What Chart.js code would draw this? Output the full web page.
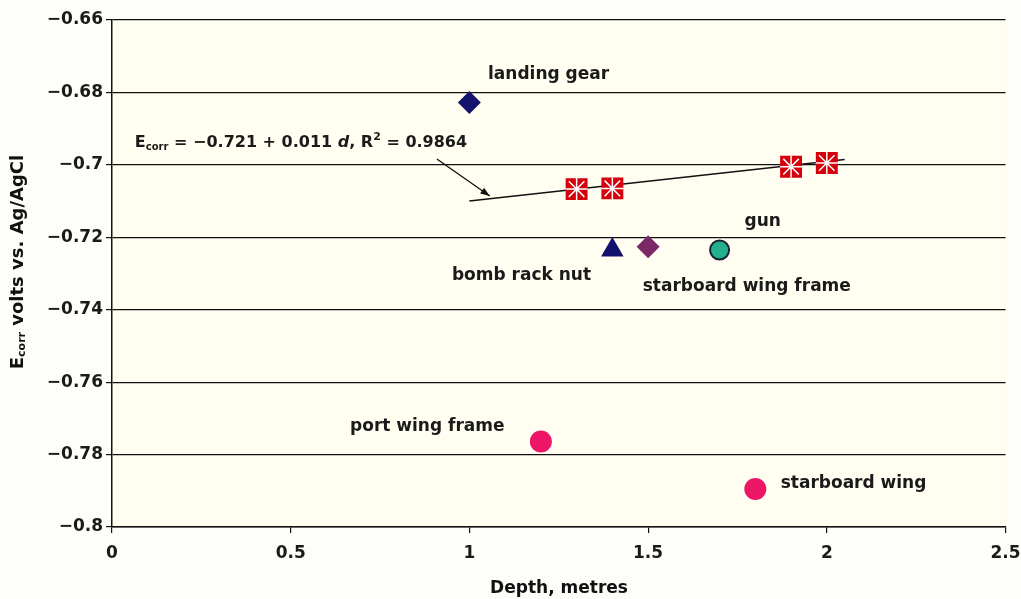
<!DOCTYPE html>
<html>
<head>
<meta charset="utf-8">
<script src="https://cdn.jsdelivr.net/npm/chart.js@4.4.0/dist/chart.umd.min.js"></script>
<style>
  html, body { margin: 0; padding: 0; background: #fdfdf9; }
  #wrap { width: 1021px; height: 599px; position: relative; }
</style>
</head>
<body>
<div id="wrap"><canvas id="c" width="1021" height="599"></canvas></div>
<script>
// depth (m) and Ecorr (V vs Ag/AgCl)
const landingGearX = [1.0];
const landingGearY = [-0.6828];
const squareX = [1.3, 1.4, 1.9, 2.0];
const squareY = [-0.7067, -0.7065, -0.7005, -0.6995];
const bombRackX = [1.4];
const bombRackY = [-0.7235];
const purpleX = [1.5];
const purpleY = [-0.7226];
const gunX = [1.7];
const gunY = [-0.7235];
const wingX = [1.2, 1.8];
const wingY = [-0.7764, -0.7895];
const trendX = [1.0, 2.05];
const trendY = [-0.710, -0.6985];
const xTicks = [0, 0.5, 1, 1.5, 2, 2.5];
const yTicks = [-0.66, -0.68, -0.7, -0.72, -0.74, -0.76, -0.78, -0.8];

const pts = (xs, ys) => xs.map((x, i) => ({ x: x, y: ys[i] }));
const FONT = "'DejaVu Sans', Verdana, sans-serif";

// text annotations (data coords, left edge / vertical middle)
const notes = [
  { text: "landing gear", x: 1.052, y: -0.6752 },
  { text: "gun", x: 1.770, y: -0.7158 },
  { text: "bomb rack nut", x: 0.951, y: -0.7307 },
  { text: "starboard wing frame", x: 1.485, y: -0.7335 },
  { text: "port wing frame", x: 0.666, y: -0.7724 },
  { text: "starboard wing", x: 1.871, y: -0.7879 },
];

const decor = {
  id: "decor",
  beforeDraw(chart) {
    const { ctx, chartArea: a } = chart;
    ctx.save();
    ctx.fillStyle = "#fffef0";
    ctx.fillRect(a.left, a.top, a.right - a.left, a.bottom - a.top);
    ctx.restore();
  },
  afterDraw(chart) {
    const { ctx, scales } = chart;
    const xs = scales.x, ys = scales.y;
    ctx.save();
    ctx.fillStyle = "#1a1a1a";
    ctx.textBaseline = "middle";
    ctx.font = "bold 17px " + FONT;
    notes.forEach((n) => {
      ctx.fillText(n.text, xs.getPixelForValue(n.x), ys.getPixelForValue(n.y));
    });

    // equation
    let px = xs.getPixelForValue(0.064);
    const py = ys.getPixelForValue(-0.694);
    const seg = (t, font, dy) => {
      ctx.font = font;
      ctx.fillText(t, px, py + (dy || 0));
      px += ctx.measureText(t).width;
    };
    seg("E", "bold 16px " + FONT);
    seg("corr", "bold 10px " + FONT, 4);
    seg(" = \u22120.721 + 0.011 ", "bold 16px " + FONT);
    seg("d", "italic bold 16px " + FONT);
    seg(", R", "bold 16px " + FONT);
    seg("2", "bold 11px " + FONT, -6);
    seg(" = 0.9864", "bold 16px " + FONT);

    // arrow
    const x0 = xs.getPixelForValue(0.909), y0 = ys.getPixelForValue(-0.6984);
    const x1 = xs.getPixelForValue(1.057), y1 = ys.getPixelForValue(-0.7086);
    ctx.strokeStyle = "#111";
    ctx.lineWidth = 1.3;
    ctx.beginPath();
    ctx.moveTo(x0, y0);
    ctx.lineTo(x1, y1);
    ctx.stroke();
    const ang = Math.atan2(y1 - y0, x1 - x0);
    ctx.beginPath();
    ctx.moveTo(x1, y1);
    ctx.lineTo(x1 - 10 * Math.cos(ang - 0.35), y1 - 10 * Math.sin(ang - 0.35));
    ctx.lineTo(x1 - 10 * Math.cos(ang + 0.35), y1 - 10 * Math.sin(ang + 0.35));
    ctx.closePath();
    ctx.fillStyle = "#111";
    ctx.fill();

    // axis titles
    ctx.font = "bold 17px " + FONT;
    ctx.textAlign = "center";
    ctx.fillText("Depth, metres", 559, 589);

    ctx.translate(18, 262);
    ctx.rotate(-Math.PI / 2);
    ctx.textAlign = "left";
    const parts = [
      ["E", "bold 18px " + FONT, 0],
      ["corr", "bold 11px " + FONT, 4],
      [" volts vs. Ag/AgCl", "bold 18px " + FONT, 0],
    ];
    let w = 0;
    parts.forEach((p) => { ctx.font = p[1]; w += ctx.measureText(p[0]).width; });
    let tx = -w / 2;
    parts.forEach((p) => {
      ctx.font = p[1];
      ctx.fillText(p[0], tx, p[2]);
      tx += ctx.measureText(p[0]).width;
    });
    ctx.restore();
  },
};

const fmt = (v) => String(Number(v.toFixed(2))).replace("-", "\u2212");

new Chart(document.getElementById("c"), {
  type: "scatter",
  data: {
    datasets: [
      { data: pts(landingGearX, landingGearY), pointStyle: "rectRot", pointRadius: 11.5,
        backgroundColor: "#14146e", borderWidth: 0 },
      { data: pts(squareX, squareY), pointStyle: "star", pointRadius: 11,
        borderColor: "#ffffff", borderWidth: 1.5, backgroundColor: "transparent" },
      { data: pts(squareX, squareY), pointStyle: "rect", pointRadius: 15.5,
        backgroundColor: "#d6000c", borderWidth: 0 },
      { data: pts(bombRackX, bombRackY), pointStyle: "triangle", pointRadius: 13,
        backgroundColor: "#12126e", borderWidth: 0 },
      { data: pts(purpleX, purpleY), pointStyle: "rectRot", pointRadius: 11.5,
        backgroundColor: "#7b2868", borderWidth: 0 },
      { data: pts(gunX, gunY), pointStyle: "circle", pointRadius: 9.5,
        backgroundColor: "#22b08e", borderColor: "#1c2430", borderWidth: 2 },
      { data: pts(wingX, wingY), pointStyle: "circle", pointRadius: 11,
        backgroundColor: "#ec1566", borderWidth: 0 },
      { type: "line", data: pts(trendX, trendY), showLine: true, borderColor: "#111",
        borderWidth: 1.5, pointRadius: 0, fill: false },
    ],
  },
  options: {
    responsive: false,
    animation: false,
    layout: { padding: { top: 20, right: 0, left: 0, bottom: 0 } },
    plugins: { legend: { display: false }, tooltip: { enabled: false } },
    scales: {
      x: {
        type: "linear",
        min: 0, max: 2.5,
        afterFit: (s) => { s.height = 72; s.paddingRight = 15; s.paddingLeft = 0; },
        afterBuildTicks: (s) => { s.ticks = xTicks.map((v) => ({ value: v })); },
        ticks: { color: "#1a1a1a", padding: 10, font: { family: FONT, size: 17, weight: "bold" },
          callback: (v) => String(v) },
        grid: { drawOnChartArea: false, drawTicks: true, tickLength: 6, color: "#111", lineWidth: 1.2 },
        border: { color: "#111", width: 1.5 },
      },
      y: {
        type: "linear",
        min: -0.8, max: -0.66,
        afterFit: (s) => { s.width = 112; },
        afterBuildTicks: (s) => { s.ticks = yTicks.map((v) => ({ value: v })); },
        ticks: { color: "#1a1a1a", padding: 3, font: { family: FONT, size: 17, weight: "bold" },
          callback: (v) => fmt(v) },
        grid: { color: "#111", lineWidth: 1.2, tickLength: 6 },
        border: { color: "#111", width: 1.5 },
      },
    },
  },
  plugins: [decor],
});
</script>
</body>
</html>
